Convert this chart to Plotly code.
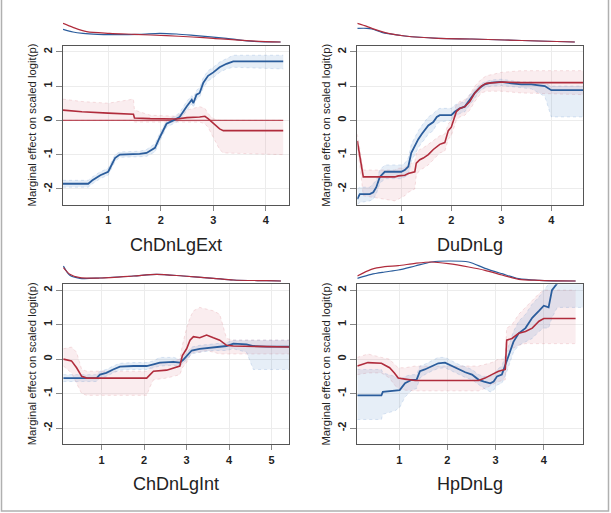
import plotly.graph_objects as go

W, H = 611, 513

# ---------------- data ----------------
panel_titles = ["ChDnLgExt", "DuDnLg", "ChDnLgInt", "HpDnLg"]
x_ticks = [[1, 2, 3, 4], [1, 2, 3, 4], [1, 2, 3, 4, 5], [1, 2, 3, 4]]
y_ticks = [-2, -1, 0, 1, 2]
x_ranges = [[0.14, 4.44], [0.12, 4.64], [0.09, 5.41], [0.13, 4.82]]

# Panel 1: ChDnLgExt
p1_blue_x = [0.14, 0.62, 0.70, 0.85, 1.0, 1.13, 1.22, 1.45, 1.6, 1.73, 1.89, 1.98, 2.11, 2.24,
             2.36, 2.49, 2.59, 2.62, 2.68, 2.74, 2.81, 2.9, 3.0, 3.12, 3.25, 3.38, 4.33]
p1_blue_y = [-1.85, -1.85, -1.75, -1.6, -1.5, -1.1, -1.0, -1.0, -0.98, -0.95, -0.8, -0.5, -0.1, 0.0,
             0.1, 0.4, 0.6, 0.5, 0.75, 0.8, 1.1, 1.3, 1.4, 1.55, 1.65, 1.72, 1.72]
p1_blue_hi = [-1.75, -1.75, -1.65, -1.5, -1.4, -1.0, -0.92, -0.92, -0.9, -0.85, -0.68, -0.38, 0.0, 0.1,
              0.22, 0.55, 0.72, 0.65, 0.88, 0.95, 1.25, 1.45, 1.55, 1.7, 1.8, 1.9, 1.9]
p1_blue_lo = [-1.95, -1.95, -1.85, -1.7, -1.6, -1.2, -1.08, -1.08, -1.06, -1.05, -0.92, -0.62, -0.2, -0.1,
              0.0, 0.28, 0.48, 0.38, 0.62, 0.68, 0.95, 1.15, 1.25, 1.4, 1.5, 1.55, 1.5]
p1_red_x = [0.14, 0.5, 1.0, 1.48, 1.5, 1.8, 2.3, 2.5, 2.74, 2.84, 2.9, 3.0, 3.12, 3.19, 4.33]
p1_red_y = [0.3, 0.25, 0.21, 0.18, 0.07, 0.05, 0.04, 0.08, 0.1, 0.12, 0.05, -0.1, -0.25, -0.3, -0.3]
p1_red_hi = [0.62, 0.55, 0.5, 0.62, 0.3, 0.15, 0.12, 0.3, 0.4, 0.35, 0.2, 0.05, 0.0, 0.0, 0.0]
p1_red_lo = [0.0, 0.0, 0.0, 0.0, -0.05, -0.05, -0.05, -0.05, -0.05, -0.1, -0.2, -0.5, -0.85, -0.95, -1.0]
p1_red2_x = [0.14, 4.33]
p1_red2_y = [0.0, 0.0]
p1_dens_red_x = [0.14, 0.33, 0.59, 1.03, 1.5, 2.11, 2.6, 3.0, 3.63, 4.28]
p1_dens_red = [57, 45, 32, 27, 24, 20, 16, 12, 5, 1]
p1_dens_blue_x = [0.14, 0.33, 0.52, 0.8, 1.03, 1.6, 1.98, 2.3, 2.62, 3.25, 3.76, 4.28]
p1_dens_blue = [39, 31, 27, 24, 23, 24, 27, 25, 21, 12, 3, 1]

# Panel 2: DuDnLg
p2_blue_x = [0.12, 0.17, 0.37, 0.44, 0.5, 0.57, 0.67, 1.0, 1.07, 1.14, 1.2, 1.27, 1.34, 1.41, 1.47, 1.54,
             1.64, 1.71, 1.77, 2.0, 2.07, 2.17, 2.27, 2.37, 2.47, 2.57, 2.67, 2.8, 3.0, 3.2, 3.4, 3.6,
             3.87, 4.0, 4.64]
p2_blue_y = [-2.3, -2.15, -2.15, -2.1, -1.95, -1.65, -1.5, -1.5, -1.45, -1.35, -0.95, -0.75, -0.55, -0.4,
             -0.3, -0.15, -0.05, 0.1, 0.15, 0.15, 0.25, 0.35, 0.4, 0.6, 0.8, 0.95, 1.05, 1.1, 1.12, 1.08,
             1.05, 1.05, 1.0, 0.88, 0.88]
p2_blue_hi = [-2.0, -1.95, -1.95, -1.85, -1.75, -1.45, -1.3, -1.3, -1.25, -1.1, -0.7, -0.5, -0.3, -0.15,
              -0.05, 0.1, 0.2, 0.3, 0.35, 0.35, 0.45, 0.5, 0.55, 0.75, 0.9, 1.05, 1.12, 1.18, 1.2, 1.15,
              1.12, 1.12, 1.08, 1.0, 1.0]
p2_blue_lo = [-2.45, -2.4, -2.35, -2.3, -2.15, -1.85, -1.7, -1.7, -1.65, -1.6, -1.2, -1.0, -0.8, -0.65,
              -0.55, -0.4, -0.3, -0.1, -0.05, 0.0, 0.1, 0.2, 0.25, 0.45, 0.65, 0.85, 0.95, 1.0, 1.02, 0.98,
              0.95, 0.92, 0.7, 0.1, 0.1]
p2_red_x = [0.12, 0.17, 0.24, 0.87, 0.94, 1.07, 1.14, 1.27, 1.3, 1.37, 1.44, 1.54, 1.64, 1.77, 1.87,
            1.94, 2.0, 2.1, 2.17, 2.27, 2.37, 2.47, 2.6, 2.7, 3.0, 3.4, 4.64]
p2_red_y = [-0.6, -1.0, -1.65, -1.65, -1.62, -1.6, -1.55, -1.5, -1.25, -1.15, -1.1, -1.0, -0.85, -0.7,
            -0.65, -0.3, -0.2, 0.25, 0.35, 0.4, 0.55, 0.8, 1.0, 1.08, 1.12, 1.1, 1.1]
p2_red_hi = [-0.4, -0.8, -1.45, -1.45, -1.4, -1.38, -1.3, -1.2, -0.95, -0.85, -0.8, -0.7, -0.6, -0.45,
             -0.4, -0.1, 0.0, 0.45, 0.55, 0.6, 0.75, 1.0, 1.2, 1.3, 1.4, 1.45, 1.45]
p2_red_lo = [-0.8, -1.3, -2.2, -2.35, -2.3, -2.2, -2.1, -2.0, -1.6, -1.45, -1.4, -1.3, -1.15, -0.95,
             -0.9, -0.55, -0.45, 0.0, 0.1, 0.15, 0.3, 0.55, 0.8, 0.85, 0.85, 0.8, 0.75]
p2_dens_x = [0.12, 0.31, 0.41, 0.61, 0.74, 1.07, 1.74, 2.41, 3.07, 3.74, 4.47]
p2_dens_red = [57, 48, 42, 32, 27, 19, 12, 10, 7, 4, 1]
p2_dens_blue = [42, 42, 40, 30, 26, 19, 12, 10, 7, 4, 1]

# Panel 3: ChDnLgInt
p3_blue_x = [0.1, 0.88, 0.96, 1.11, 1.27, 1.43, 1.75, 2.06, 2.22, 2.37, 2.69, 2.84, 2.92, 3.0, 3.12,
             3.31, 3.63, 3.94, 4.1, 4.41, 4.57, 4.88, 5.41]
p3_blue_y = [-0.55, -0.55, -0.45, -0.4, -0.3, -0.22, -0.2, -0.2, -0.15, -0.1, -0.08, -0.1, -0.02, 0.1,
             0.25, 0.3, 0.35, 0.38, 0.45, 0.43, 0.38, 0.36, 0.36]
p3_blue_hi = [-0.45, -0.45, -0.35, -0.3, -0.2, -0.12, -0.1, -0.1, -0.05, 0.05, 0.05, 0.0, 0.08, 0.2,
              0.35, 0.4, 0.45, 0.48, 0.55, 0.55, 0.55, 0.55, 0.55]
p3_blue_lo = [-0.65, -0.65, -0.55, -0.5, -0.4, -0.32, -0.3, -0.3, -0.25, -0.2, -0.18, -0.2, -0.12, 0.0,
              0.15, 0.2, 0.25, 0.25, 0.3, 0.2, -0.3, -0.3, -0.3]
p3_red_x = [0.1, 0.29, 0.41, 0.53, 0.65, 2.06, 2.14, 2.22, 2.53, 2.84, 2.9, 3.0, 3.08, 3.16, 3.31,
            3.47, 3.63, 3.78, 3.94, 4.1, 5.41]
p3_red_y = [0.0, -0.05, -0.25, -0.5, -0.55, -0.55, -0.45, -0.35, -0.32, -0.2, 0.1, 0.3, 0.55, 0.65,
            0.62, 0.7, 0.62, 0.55, 0.4, 0.38, 0.35]
p3_red_hi = [0.3, 0.35, 0.2, -0.3, -0.35, -0.35, -0.25, -0.15, -0.1, 0.0, 0.4, 0.9, 1.2, 1.4, 1.5,
             1.45, 1.4, 1.3, 0.6, 0.55, 0.55]
p3_red_lo = [-0.2, -0.4, -0.7, -1.0, -1.05, -1.05, -0.8, -0.6, -0.55, -0.45, -0.25, -0.1, 0.1, 0.2,
             0.2, 0.25, 0.2, 0.15, 0.15, 0.15, 0.15]
p3_dens_x = [0.1, 0.25, 0.49, 0.96, 1.75, 2.29, 2.92, 3.63, 4.1, 4.88, 5.22]
p3_dens_red = [40, 20, 10, 9, 15, 20, 15, 8, 3, 1, 0]
p3_dens_blue = [45, 17, 8, 9, 15, 20, 15, 8, 3, 1, 0]

# Panel 4: HpDnLg
p4_blue_x = [0.13, 0.63, 0.66, 0.91, 1.01, 1.12, 1.26, 1.36, 1.43, 1.53, 1.67, 1.81, 1.95, 2.09, 2.23,
             2.37, 2.51, 2.65, 2.76, 2.89, 2.96, 3.03, 3.13, 3.2, 3.27, 3.37, 3.48, 3.62, 3.76, 3.9,
             4.0, 4.1, 4.17, 4.28, 4.82]
p4_blue_y = [-1.05, -1.05, -0.95, -0.92, -0.9, -0.7, -0.6, -0.6, -0.35, -0.3, -0.2, -0.12, -0.1, -0.2,
             -0.3, -0.38, -0.45, -0.6, -0.65, -0.7, -0.65, -0.5, -0.45, -0.2, 0.1, 0.5, 0.75, 0.9, 1.2,
             1.4, 1.55, 1.5, 2.0, 2.2, 2.5]
p4_blue_hi = [-0.3, -0.3, -0.4, -0.5, -0.6, -0.5, -0.45, -0.45, -0.2, -0.15, -0.05, 0.05, 0.05, -0.05,
              -0.15, -0.22, -0.3, -0.45, -0.5, -0.5, -0.45, -0.3, -0.2, 0.1, 0.4, 0.8, 1.1, 1.3, 1.6,
              1.8, 2.0, 2.2, 2.3, 2.4, 2.5]
p4_blue_lo = [-1.75, -1.75, -1.6, -1.5, -1.4, -1.1, -0.9, -0.85, -0.55, -0.45, -0.35, -0.27, -0.25, -0.35,
              -0.45, -0.53, -0.6, -0.75, -0.85, -0.95, -0.9, -0.75, -0.7, -0.5, -0.2, 0.2, 0.4, 0.5, 0.6,
              0.8, 0.9, 0.9, 1.2, 1.5, 1.5]
p4_red_x = [0.13, 0.35, 0.63, 0.8, 0.9, 0.98, 1.12, 1.33, 2.65, 2.78, 2.92, 3.06, 3.2, 3.23, 3.34,
            3.48, 3.62, 3.76, 3.9, 4.0, 4.66]
p4_red_y = [-0.2, -0.1, -0.12, -0.25, -0.4, -0.55, -0.58, -0.62, -0.62, -0.55, -0.45, -0.35, -0.3, 0.55,
            0.6, 0.75, 0.8, 0.9, 1.1, 1.18, 1.18]
p4_red_hi = [0.05, 0.15, 0.05, 0.0, -0.15, -0.25, -0.25, -0.2, -0.2, -0.15, -0.1, 0.0, 0.0, 0.9, 1.0,
             1.3, 1.5, 1.7, 1.9, 2.0, 2.0]
p4_red_lo = [-0.45, -0.4, -0.4, -0.55, -0.75, -0.85, -0.9, -0.92, -0.92, -0.85, -0.75, -0.65, -0.6, 0.2,
             0.3, 0.4, 0.45, 0.45, 0.45, 0.45, 0.45]
p4_dens_x = [0.13, 0.42, 0.7, 0.98, 1.33, 1.67, 2.02, 2.44, 2.78, 3.13, 3.48, 3.9, 4.66]
p4_dens_blue = [8, 20, 27, 33, 45, 57, 60, 57, 38, 22, 7, 2, 0]
p4_dens_red = [15, 35, 43, 46, 53, 57, 52, 42, 32, 18, 5, 2, 0]

panels = [
    dict(bx=p1_blue_x, by=p1_blue_y, bhi=p1_blue_hi, blo=p1_blue_lo,
         rx=p1_red_x, ry=p1_red_y, rhi=p1_red_hi, rlo=p1_red_lo,
         dbx=p1_dens_blue_x, dby=p1_dens_blue, drx=p1_dens_red_x, dry=p1_dens_red),
    dict(bx=p2_blue_x, by=p2_blue_y, bhi=p2_blue_hi, blo=p2_blue_lo,
         rx=p2_red_x, ry=p2_red_y, rhi=p2_red_hi, rlo=p2_red_lo,
         dbx=p2_dens_x, dby=p2_dens_blue, drx=p2_dens_x, dry=p2_dens_red),
    dict(bx=p3_blue_x, by=p3_blue_y, bhi=p3_blue_hi, blo=p3_blue_lo,
         rx=p3_red_x, ry=p3_red_y, rhi=p3_red_hi, rlo=p3_red_lo,
         dbx=p3_dens_x, dby=p3_dens_blue, drx=p3_dens_x, dry=p3_dens_red),
    dict(bx=p4_blue_x, by=p4_blue_y, bhi=p4_blue_hi, blo=p4_blue_lo,
         rx=p4_red_x, ry=p4_red_y, rhi=p4_red_hi, rlo=p4_red_lo,
         dbx=p4_dens_x, dby=p4_dens_blue, drx=p4_dens_x, dry=p4_dens_red),
]

# ---------------- layout geometry (pixels) ----------------
BLUE = "#2b5d9c"
RED = "#b02c3c"
BLUE_FILL = "rgba(90,140,200,0.15)"
RED_FILL = "rgba(210,110,120,0.12)"
BLUE_EDGE = "rgba(90,140,200,0.35)"
RED_EDGE = "rgba(210,110,120,0.35)"

boxes = [  # x0, x1, y0(top), y1(bottom)
    (63, 289, 46, 205),
    (357.3, 583.3, 46, 205),
    (63, 289, 284.3, 444.3),
    (357.3, 583.3, 284.3, 444.3),
]
dens_px = [(20, 44, -5, 67), (20, 44, -5, 67), (258, 282, -3, 69), (258, 282, -3, 69)]


def fx(px):
    return px / W


def fy(px):
    return 1 - px / H


fig = go.Figure()
layout = dict(
    width=W, height=H, margin=dict(l=0, r=0, t=0, b=0),
    paper_bgcolor="white", plot_bgcolor="white", showlegend=False,
    font=dict(family="Liberation Sans, Arial, sans-serif", color="#222"),
)
annotations = []

for i, p in enumerate(panels):
    k = i + 1
    kd = i + 5
    xa = "x" if k == 1 else f"x{k}"
    ya = "y" if k == 1 else f"y{k}"
    xd = f"x{kd}"
    yd = f"y{kd}"
    x0, x1, t, b = boxes[i]

    # faint bundles (red beneath blue)
    for xs, hi, lo, fill, edge in [(p["rx"], p["rhi"], p["rlo"], RED_FILL, RED_EDGE),
                                   (p["bx"], p["bhi"], p["blo"], BLUE_FILL, BLUE_EDGE)]:
        fig.add_trace(go.Scatter(x=xs, y=lo, xaxis=xa, yaxis=ya, mode="lines",
                                 line=dict(color=edge, width=0.6, dash="dot", shape="linear"),
                                 hoverinfo="skip"))
        fig.add_trace(go.Scatter(x=xs, y=hi, xaxis=xa, yaxis=ya, mode="lines", fill="tonexty",
                                 fillcolor=fill,
                                 line=dict(color=edge, width=0.6, dash="dot", shape="linear"),
                                 hoverinfo="skip"))
    if i == 0:
        fig.add_trace(go.Scatter(x=p1_red2_x, y=p1_red2_y, xaxis=xa, yaxis=ya, mode="lines",
                                 line=dict(color=RED, width=1.2), opacity=0.8))
    fig.add_trace(go.Scatter(x=p["bx"], y=p["by"], xaxis=xa, yaxis=ya, mode="lines",
                             line=dict(color=BLUE, width=1.8)))
    fig.add_trace(go.Scatter(x=p["rx"], y=p["ry"], xaxis=xa, yaxis=ya, mode="lines",
                             line=dict(color=RED, width=1.6)))
    # densities
    fig.add_trace(go.Scatter(x=p["dbx"], y=p["dby"], xaxis=xd, yaxis=yd, mode="lines",
                             line=dict(color=BLUE, width=1.2, shape="spline", smoothing=0.8)))
    fig.add_trace(go.Scatter(x=p["drx"], y=p["dry"], xaxis=xd, yaxis=yd, mode="lines",
                             line=dict(color=RED, width=1.2, shape="spline", smoothing=0.8)))

    xkey = "xaxis" if k == 1 else f"xaxis{k}"
    ykey = "yaxis" if k == 1 else f"yaxis{k}"
    layout[xkey] = dict(
        domain=[fx(x0), fx(x1)], anchor=ya, range=x_ranges[i],
        tickvals=x_ticks[i], ticktext=[str(v) for v in x_ticks[i]],
        ticks="outside", ticklen=5, tickcolor="#888", tickwidth=1,
        tickfont=dict(size=11, color="#222", family="Liberation Sans, Arial, sans-serif", weight="bold"),
        showline=True, linecolor="#555", linewidth=1, mirror=True,
        showgrid=True, gridcolor="#ececec", gridwidth=1, zeroline=False,
    )
    layout[ykey] = dict(
        domain=[fy(b), fy(t)], anchor=xa, range=[-2.47, 2.17],
        tickvals=y_ticks, ticktext=[str(v) for v in y_ticks], tickangle=-90,
        ticks="outside", ticklen=6, tickcolor="#888", tickwidth=1,
        tickfont=dict(size=11, color="#222", family="Liberation Sans, Arial, sans-serif", weight="bold"),
        showline=True, linecolor="#555", linewidth=1, mirror=True,
        showgrid=True, gridcolor="#ececec", gridwidth=1, zeroline=False,
    )
    d0, d1, r0, r1 = dens_px[i]
    layout[f"xaxis{kd}"] = dict(domain=[fx(x0), fx(x1)], anchor=yd, range=x_ranges[i],
                                visible=False, showgrid=False)
    layout[f"yaxis{kd}"] = dict(domain=[fy(d1), fy(d0)], anchor=xd, range=[r0, r1],
                                visible=False, showgrid=False)

    # titles
    annotations.append(dict(text=panel_titles[i], x=fx((x0 + x1) / 2), y=fy(b + 40),
                            xref="paper", yref="paper", showarrow=False,
                            font=dict(size=18, color="#222"), xanchor="center", yanchor="middle"))
    annotations.append(dict(text="Marginal effect on scaled logit(p)", x=fx(x0 - 31), y=fy((t + b) / 2),
                            xref="paper", yref="paper", showarrow=False, textangle=-90,
                            font=dict(size=11.3, color="#222"), xanchor="center", yanchor="middle"))

layout["annotations"] = annotations
layout["shapes"] = [dict(type="path", xref="paper", yref="paper",
                         path=f"M {fx(1.5)},1.05 L {fx(1.5)},{fy(511)} L {fx(608.5)},{fy(511)} L {fx(608.5)},1.05",
                         line=dict(color="#b0b0b0", width=1.5))]
fig.update_layout(**layout)
fig.write_html("out.html")
